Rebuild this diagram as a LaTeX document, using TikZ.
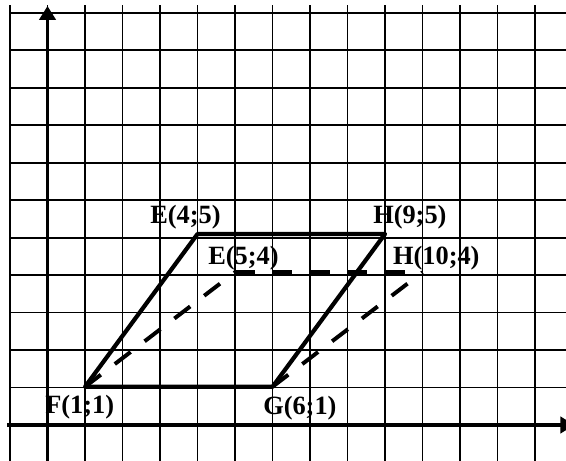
\documentclass[tikz,border=0pt]{standalone}
\usepackage{fontspec}
\setmainfont{Liberation Serif}
\usetikzlibrary{arrows.meta}
\tikzset{gridline/.style={line width=1.5pt,draw=black},axis/.style={line width=3pt,-{Triangle[length=3.7mm,width=4.3mm]}},edge/.style={line width=3.2pt,line join=round},hidden/.style={line width=3pt,dash pattern=on 5.3mm off 4.7mm},lbl/.style={font=\fontsize{20}{24}\selectfont\bfseries,inner sep=0pt,anchor=base west}}

\begin{document}
\begin{tikzpicture}[y=1.0187cm]
  \path[use as bounding box,clip](-1.267,-0.942)rectangle(13.827,11.126);
  \draw[gridline](-1,-0.942)grid(13.827,11);
  % axes
  \coordinate(xs)at(-1.08,0);\coordinate(xe)at(14.05,0);
  \coordinate(ys)at(0,-0.942);\coordinate(ye)at(0,10.97);
  \draw[axis](xs)--(xe);
  \draw[axis](ys)--(ye);
  % points
  \coordinate(F)at(1,1);\coordinate(G)at(6,1);
  \coordinate(E)at(4,5);\coordinate(H)at(9,5);
  \coordinate(E2)at(5,4);\coordinate(H2)at(10,4);
  \draw[edge](F)--(G)--(H)--(E)--cycle;
  \draw[hidden](E2)--(H2);
  \draw[hidden](F)--(E2);
  \draw[hidden](G)--(H2);
  % labels
  \node[lbl](tE)at(2.733,5.28){E(4;5)};
  \node[lbl](tH)at(8.68,5.28){H(9;5)};
  \node[lbl](tE2)at(4.28,4.19){E(5;4)};
  \node[lbl](tH2)at(9.21,4.19){H(10;4)};
  \node[lbl](tF)at(-0.067,0.29){F(1;1)};
  \node[lbl](tG)at(5.747,0.27){G(6;1)};
\end{tikzpicture}
\end{document}
